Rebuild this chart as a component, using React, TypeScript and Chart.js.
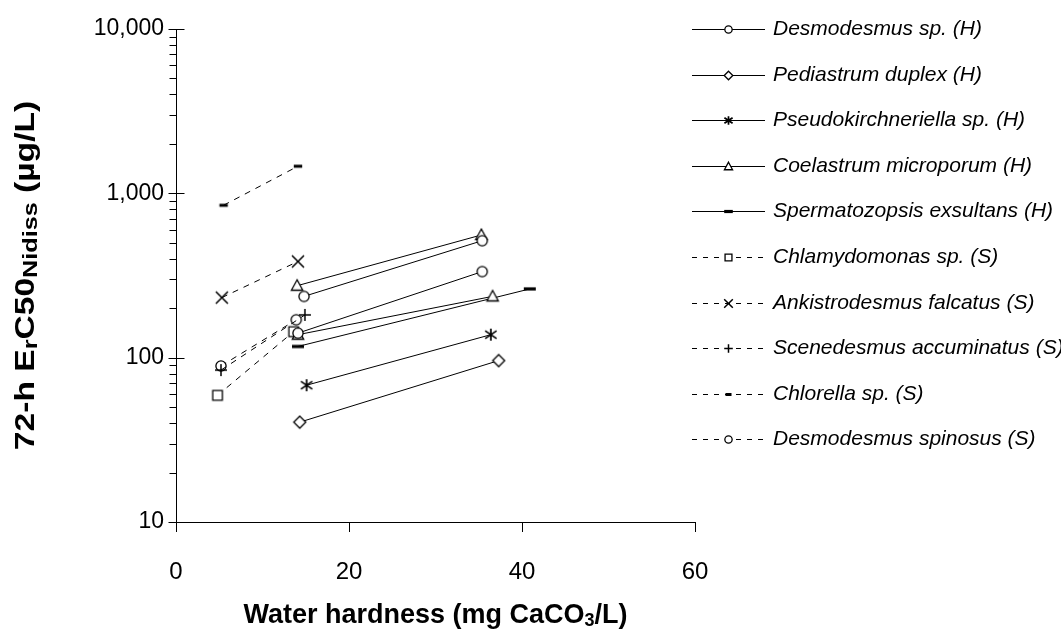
import React, { useEffect, useRef } from 'react';
import { Chart, registerables } from 'chart.js';

Chart.register(...registerables);

const FONT = '"Liberation Sans", Arial, Helvetica, sans-serif';

// ---- axis text ----
const xTickValues = [0, 20, 40, 60];
const yMajorValues = [10, 100, 1000, 10000];
const yTickLabels = ['10', '100', '1,000', '10,000'];
const xTitleParts: [string, boolean][] = [['Water hardness (mg CaCO', false], ['3', true], ['/L)', false]];
const yTitleParts: [string, boolean][] = [['72-h E', false], ['r', true], ['C50', false], ['Nidiss', true], [' (µg/L)', false]];

// ---- legend ----
const speciesNames = [
  'Desmodesmus sp. (H)',
  'Pediastrum duplex (H)',
  'Pseudokirchneriella sp. (H)',
  'Coelastrum microporum (H)',
  'Spermatozopsis exsultans (H)',
  'Chlamydomonas sp. (S)',
  'Ankistrodesmus falcatus (S)',
  'Scenedesmus accuminatus (S)',
  'Chlorella sp. (S)',
  'Desmodesmus spinosus (S)',
];
const speciesMarkers = ['circle', 'diamond', 'asterisk', 'triangle', 'bar', 'square', 'cross', 'plus', 'barSmall', 'circle'];
const speciesDashed = [false, false, false, false, false, true, true, true, true, true];

// ---- data: water hardness (mg CaCO3/L) and 72-h ErC50 (µg/L) ----
const desmodesmusH1X = [14.8, 35.4];
const desmodesmusH1Y = [236, 515];
const desmodesmusH2X = [14.1, 35.4];
const desmodesmusH2Y = [141, 334];
const pediastrumX = [14.3, 37.3];
const pediastrumY = [40.5, 96];
const pseudokirchX = [15.1, 36.4];
const pseudokirchY = [68, 138];
const coelastrum1X = [14.0, 35.3];
const coelastrum1Y = [274, 558];
const coelastrum2X = [14.1, 36.6];
const coelastrum2Y = [138, 236];
const spermatoX = [14.1, 40.9];
const spermatoY = [117, 262];
const chlamydoX = [4.8, 13.6];
const chlamydoY = [59, 144];
const ankistroX = [5.3, 14.1];
const ankistroY = [232, 385];
const scenedesX = [5.2, 14.9];
const scenedesY = [84, 182];
const chlorellaX = [5.5, 14.1];
const chlorellaY = [846, 1462];
const spinosusX = [5.2, 13.9];
const spinosusY = [89, 170];

const segments: { species: number; x: number[]; y: number[] }[] = [
  { species: 0, x: desmodesmusH1X, y: desmodesmusH1Y },
  { species: 0, x: desmodesmusH2X, y: desmodesmusH2Y },
  { species: 1, x: pediastrumX, y: pediastrumY },
  { species: 2, x: pseudokirchX, y: pseudokirchY },
  { species: 3, x: coelastrum1X, y: coelastrum1Y },
  { species: 3, x: coelastrum2X, y: coelastrum2Y },
  { species: 4, x: spermatoX, y: spermatoY },
  { species: 5, x: chlamydoX, y: chlamydoY },
  { species: 6, x: ankistroX, y: ankistroY },
  { species: 7, x: scenedesX, y: scenedesY },
  { species: 8, x: chlorellaX, y: chlorellaY },
  { species: 9, x: spinosusX, y: spinosusY },
];

function drawMarker(ctx: CanvasRenderingContext2D, kind: string, x: number, y: number, s: number) {
  ctx.save();
  ctx.strokeStyle = '#000';
  ctx.fillStyle = '#fff';
  ctx.lineWidth = 1.3;
  ctx.setLineDash([]);
  ctx.beginPath();
  switch (kind) {
    case 'circle':
      ctx.arc(x, y, s * 0.85, 0, Math.PI * 2);
      ctx.fill();
      ctx.stroke();
      break;
    case 'diamond':
      ctx.moveTo(x, y - s);
      ctx.lineTo(x + s, y);
      ctx.lineTo(x, y + s);
      ctx.lineTo(x - s, y);
      ctx.closePath();
      ctx.fill();
      ctx.stroke();
      break;
    case 'triangle':
      ctx.moveTo(x, y - s);
      ctx.lineTo(x + s * 0.95, y + s * 0.75);
      ctx.lineTo(x - s * 0.95, y + s * 0.75);
      ctx.closePath();
      ctx.fill();
      ctx.stroke();
      break;
    case 'square':
      ctx.rect(x - s * 0.8, y - s * 0.8, s * 1.6, s * 1.6);
      ctx.fill();
      ctx.stroke();
      break;
    case 'asterisk':
      ctx.lineWidth = 1.7;
      ctx.moveTo(x, y - s);
      ctx.lineTo(x, y + s);
      ctx.moveTo(x - s * 0.95, y - s * 0.65);
      ctx.lineTo(x + s * 0.95, y + s * 0.65);
      ctx.moveTo(x - s * 0.95, y + s * 0.65);
      ctx.lineTo(x + s * 0.95, y - s * 0.65);
      ctx.stroke();
      break;
    case 'cross':
      ctx.lineWidth = 1.5;
      ctx.moveTo(x - s, y - s);
      ctx.lineTo(x + s, y + s);
      ctx.moveTo(x - s, y + s);
      ctx.lineTo(x + s, y - s);
      ctx.stroke();
      break;
    case 'plus':
      ctx.lineWidth = 1.5;
      ctx.moveTo(x - s, y);
      ctx.lineTo(x + s, y);
      ctx.moveTo(x, y - s);
      ctx.lineTo(x, y + s);
      ctx.stroke();
      break;
    case 'bar':
      ctx.fillStyle = '#000';
      ctx.fillRect(x - s, y - 1.6, s * 2, 3.2);
      break;
    case 'barSmall':
      ctx.fillStyle = '#000';
      ctx.fillRect(x - s * 0.7, y - 1.5, s * 1.4, 3);
      break;
  }
  ctx.restore();
}

function markerImage(kind: string, s: number): HTMLCanvasElement {
  const size = Math.ceil(s * 2 + 4);
  const c = document.createElement('canvas');
  c.width = size;
  c.height = size;
  const cx = c.getContext('2d')!;
  drawMarker(cx, kind, size / 2, size / 2, s);
  return c;
}

function drawParts(ctx: CanvasRenderingContext2D, parts: [string, boolean][], size: number, subSize: number) {
  const mainFont = `bold ${size}px ${FONT}`;
  const subFont = `bold ${subSize}px ${FONT}`;
  let total = 0;
  const widths = parts.map(([t, sub]) => {
    ctx.font = sub ? subFont : mainFont;
    const w = ctx.measureText(t).width;
    total += w;
    return w;
  });
  let pos = -total / 2;
  parts.forEach(([t, sub], i) => {
    ctx.font = sub ? subFont : mainFont;
    ctx.fillText(t, pos, sub ? size * 0.2 : 0);
    pos += widths[i];
  });
}

const decorPlugin = {
  id: 'decor',
  afterDraw(chart: any) {
    const ctx: CanvasRenderingContext2D = chart.ctx;
    const ys = chart.scales.y;
    const area = chart.chartArea;
    const left = Math.round(area.left) + 0.5;
    ctx.save();
    ctx.strokeStyle = '#000';
    ctx.lineWidth = 1;
    ctx.beginPath();
    yMajorValues.forEach((v, i) => {
      const py = Math.round(ys.getPixelForValue(v)) + 0.5;
      ctx.moveTo(left - 8, py);
      ctx.lineTo(left + 8, py);
      if (i < yMajorValues.length - 1) {
        for (let m = 2; m <= 9; m++) {
          const pm = Math.round(ys.getPixelForValue(v * m)) + 0.5;
          ctx.moveTo(left - 7, pm);
          ctx.lineTo(left, pm);
        }
      }
    });
    ctx.stroke();

    // axis titles
    ctx.fillStyle = '#000';
    ctx.textBaseline = 'middle';
    ctx.textAlign = 'left';
    ctx.save();
    ctx.translate((area.left + area.right) / 2, 616);
    drawParts(ctx, xTitleParts, 27, 18);
    ctx.restore();
    ctx.save();
    ctx.translate(26, (area.top + area.bottom) / 2);
    ctx.rotate(-Math.PI / 2);
    ctx.scale(1.2, 1);
    drawParts(ctx, yTitleParts, 28, 21);
    ctx.restore();

    // legend
    const lx0 = 692;
    const lx1 = 765;
    speciesNames.forEach((name, i) => {
      const ly = Math.round(29 + i * 45.6) + 0.5;
      ctx.beginPath();
      ctx.setLineDash(speciesDashed[i] ? [5, 6] : []);
      ctx.lineWidth = 1;
      ctx.strokeStyle = '#000';
      ctx.moveTo(lx0, ly);
      ctx.lineTo(lx1, ly);
      ctx.stroke();
      ctx.setLineDash([]);
      drawMarker(ctx, speciesMarkers[i], (lx0 + lx1) / 2, ly, 4.3);
      ctx.font = `italic 21px ${FONT}`;
      ctx.fillStyle = '#000';
      ctx.textBaseline = 'middle';
      ctx.fillText(name, 773, ly);
    });
    ctx.restore();
  },
};

export default function App() {
  const ref = useRef<HTMLCanvasElement | null>(null);
  useEffect(() => {
    document.body.style.margin = '0';
    const canvas = ref.current!;
    const images: Record<string, HTMLCanvasElement> = {};
    ['circle', 'diamond', 'asterisk', 'triangle', 'bar', 'square', 'cross', 'plus', 'barSmall'].forEach((k) => {
      images[k] = markerImage(k, 6);
    });
    const datasets = segments.map((seg) => ({
      label: speciesNames[seg.species],
      data: seg.x.map((xv, i) => ({ x: xv, y: seg.y[i] })),
      showLine: true,
      borderColor: '#000',
      borderWidth: 1,
      borderDash: speciesDashed[seg.species] ? [6, 6] : [],
      pointStyle: images[speciesMarkers[seg.species]],
      pointRadius: 6,
      pointHoverRadius: 6,
      backgroundColor: '#fff',
      pointBackgroundColor: '#fff',
      pointBorderColor: '#000',
    }));
    const chart = new Chart(canvas, {
      type: 'scatter',
      data: { datasets: datasets as any },
      plugins: [decorPlugin],
      options: {
        animation: false,
        responsive: false,
        devicePixelRatio: 1,
        events: [],
        layout: { padding: { left: 0, top: 29, right: 366, bottom: 0 } },
        plugins: { legend: { display: false }, tooltip: { enabled: false } },
        scales: {
          x: {
            type: 'linear',
            min: 0,
            max: 60,
            afterFit: (s: any) => { s.height = 113; },
            afterBuildTicks: (s: any) => { s.ticks = xTickValues.map((v) => ({ value: v })); },
            ticks: { font: { family: FONT, size: 24 }, color: '#000', padding: 26, callback: (v: any) => String(v), maxRotation: 0 },
            grid: { display: true, drawOnChartArea: false, drawTicks: true, tickLength: 10, tickColor: '#000', color: '#000' },
            border: { display: true, color: '#000', width: 1 },
          },
          y: {
            type: 'logarithmic',
            min: 10,
            max: 10000,
            afterFit: (s: any) => { s.width = 176; },
            afterBuildTicks: (s: any) => { s.ticks = yMajorValues.map((v) => ({ value: v })); },
            ticks: {
              font: { family: FONT, size: 23 },
              color: '#000',
              padding: 4,
              autoSkip: false,
              callback: (v: any) => {
                const i = yMajorValues.indexOf(Number(v));
                return i >= 0 ? yTickLabels[i] : '';
              },
            },
            grid: { display: false },
            border: { display: true, color: '#000', width: 1 },
          },
        },
      } as any,
    });
    return () => chart.destroy();
  }, []);
  return (
    <div style={{ width: 1061, height: 635, background: '#fff' }}>
      <canvas ref={ref} width={1061} height={635} style={{ display: 'block' }} />
    </div>
  );
}
